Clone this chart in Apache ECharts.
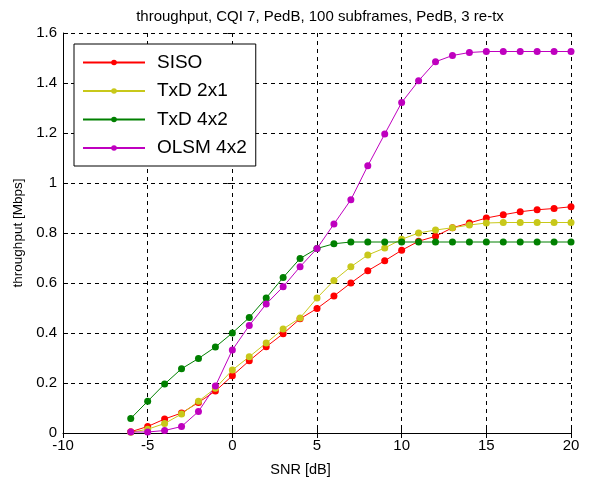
<!DOCTYPE html>
<html>
<head>
<meta charset="utf-8">
<script src="https://cdn.jsdelivr.net/npm/echarts@6/dist/echarts.min.js"></script>
<style>
  html, body { margin: 0; padding: 0; background: #fff; }
  #chart { width: 590px; height: 479px; }
</style>
</head>
<body>
<div id="chart"></div>
<script>
const snr = [-6, -5, -4, -3, -2, -1, 0, 1, 2, 3, 4, 5, 6, 7, 8, 9, 10, 11, 12, 13, 14, 15, 16, 17, 18, 19, 20];

const siso = [0.005, 0.026, 0.056, 0.08, 0.122, 0.168, 0.229, 0.289, 0.345, 0.397, 0.457, 0.498, 0.548, 0.6, 0.649, 0.689, 0.731, 0.767, 0.787, 0.821, 0.84, 0.86, 0.873, 0.885, 0.893, 0.898, 0.905];
const txd21 = [0.003, 0.015, 0.038, 0.076, 0.127, 0.179, 0.252, 0.305, 0.36, 0.416, 0.46, 0.54, 0.61, 0.665, 0.712, 0.74, 0.775, 0.8, 0.812, 0.821, 0.832, 0.84, 0.842, 0.842, 0.842, 0.842, 0.842];
const txd42 = [0.058, 0.127, 0.196, 0.257, 0.298, 0.344, 0.4, 0.462, 0.54, 0.622, 0.698, 0.738, 0.757, 0.764, 0.764, 0.764, 0.764, 0.764, 0.764, 0.764, 0.764, 0.764, 0.764, 0.764, 0.764, 0.764, 0.764];
const olsm = [0.004, 0.004, 0.01, 0.026, 0.086, 0.188, 0.332, 0.43, 0.516, 0.585, 0.665, 0.738, 0.836, 0.933, 1.069, 1.196, 1.322, 1.409, 1.485, 1.51, 1.522, 1.526, 1.526, 1.526, 1.526, 1.526, 1.526];

const seriesNames = ["SISO", "TxD 2x1", "TxD 4x2", "OLSM 4x2"];
const seriesValues = [siso, txd21, txd42, olsm];
const seriesColors = ["#ff0000", "#c8c81a", "#008000", "#bf00bf"];

const font = "Liberation Sans, Arial, sans-serif";

const chart = echarts.init(document.getElementById("chart"));

// dashed black grid, MATLAB style
const gridLine = { show: true, lineStyle: { color: "#000", type: [4, 4], width: 1 } };

const option = {
  animation: false,
  backgroundColor: "#fff",
  title: {
    text: "throughput, CQI 7, PedB, 100 subframes, PedB, 3 re-tx",
    left: 315,
    textAlign: "center",
    top: 4,
    textStyle: { fontSize: 15, fontWeight: "normal", color: "#000", fontFamily: font },
  },
  legend: {
    orient: "vertical",
    left: 74,
    top: 44,
    itemWidth: 62,
    itemHeight: 7,
    itemGap: 9.5,
    padding: [9, 9, 8.5, 8],
    backgroundColor: "#fff",
    borderColor: "#000",
    borderWidth: 1,
    borderRadius: 0,
    textStyle: { fontSize: 19, color: "#000", fontFamily: font, padding: [0, 0, 0, 7] },
    data: seriesNames,
  },
  grid: { left: 63, right: 19, top: 33, bottom: 46, containLabel: false, outerBoundsMode: "none" },
  xAxis: [
    {
      type: "value",
      min: -10,
      max: 20,
      interval: 5,
      name: "SNR [dB]",
      nameLocation: "middle",
      nameGap: 29,
      nameTextStyle: { fontSize: 14.5, color: "#000", fontFamily: font, padding: [0, 33, 0, 0] },
      axisLine: { onZero: false, lineStyle: { color: "#000", width: 1 } },
      axisTick: { inside: true, length: 5, lineStyle: { color: "#000" } },
      axisLabel: { fontSize: 15, color: "#000", fontFamily: font, margin: 5 },
      splitLine: gridLine,
    },
    {
      type: "value",
      position: "top",
      min: -10,
      max: 20,
      interval: 5,
      axisLine: { show: false },
      axisTick: { inside: true, length: 5, lineStyle: { color: "#000" } },
      axisLabel: { show: false },
      splitLine: { show: false },
    },
  ],
  yAxis: [
    {
      type: "value",
      min: 0,
      max: 1.6,
      interval: 0.2,
      name: "throughput [Mbps]",
      nameLocation: "middle",
      nameGap: 37,
      nameTextStyle: { fontSize: 13.5, color: "#000", fontFamily: font },
      axisLine: { onZero: false, lineStyle: { color: "#000", width: 1 } },
      axisTick: { inside: true, length: 5, lineStyle: { color: "#000" } },
      axisLabel: { fontSize: 15, color: "#000", fontFamily: font, margin: 6 },
      splitLine: gridLine,
    },
    {
      type: "value",
      position: "right",
      min: 0,
      max: 1.6,
      interval: 0.2,
      axisLine: { show: false },
      axisTick: { inside: true, length: 5, lineStyle: { color: "#000" } },
      axisLabel: { show: false },
      splitLine: { show: false },
    },
  ],
  series: seriesNames.map((name, i) => ({
    name: name,
    type: "line",
    data: snr.map((x, j) => [x, seriesValues[i][j]]),
    symbol: "circle",
    symbolSize: 7,
    showAllSymbol: true,
    color: seriesColors[i],
    lineStyle: { width: 1, color: seriesColors[i] },
    itemStyle: { color: seriesColors[i] },
  })),
};

chart.setOption(option);
</script>
</body>
</html>
